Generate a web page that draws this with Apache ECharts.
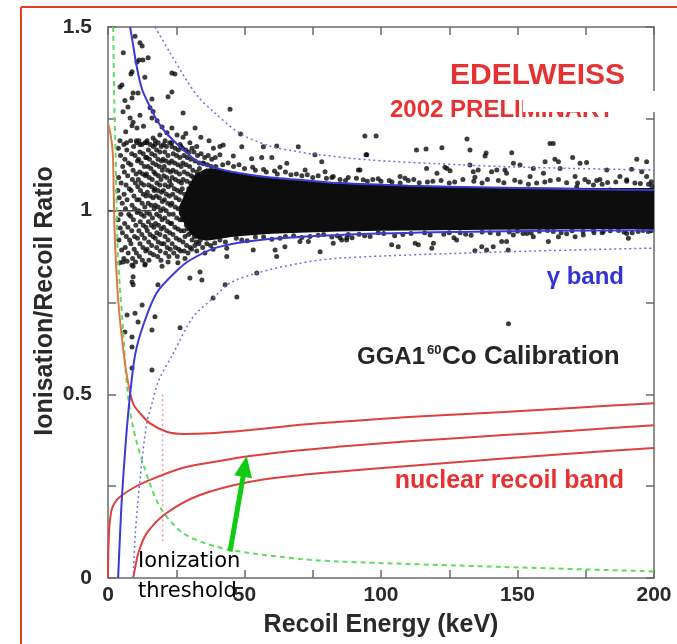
<!DOCTYPE html>
<html><head><meta charset="utf-8">
<script src="https://cdn.jsdelivr.net/npm/echarts@6/dist/echarts.min.js"></script>
<style>html,body{margin:0;padding:0;background:#fff}#c{width:677px;height:644px}</style>
</head><body><div id="c"></div><script>
// ---------- axis ticks ----------
const xTickLabels = [0, 50, 100, 150, 200];
const yTickLabels = [0, 0.5, 1, 1.5];

// ---------- curves [E keV, Q] ----------
const gammaUpperSolid = [[8.1,1.5],[9,1.46],[10.5,1.393],[12.5,1.33],[15.4,1.283],[18,1.245],[21.5,1.21],[26.4,1.174],[33.7,1.13],[45.8,1.105],[60,1.09],[70,1.084],[85,1.075],[110,1.068],[140,1.063],[170,1.059],[200,1.056]];
const gammaLowerSolid = [[3.7,0],[4.3,0.1],[5.0,0.207],[6.5,0.37],[8.1,0.5],[10,0.61],[13,0.69],[17.8,0.776],[25,0.835],[30,0.865],[40,0.9],[58,0.922],[85,0.934],[120,0.941],[160,0.945],[200,0.947]];
const gammaUpperDotted = [[17.2,1.5],[22.7,1.43],[28.8,1.355],[33,1.31],[38.5,1.27],[48.4,1.21],[59.3,1.176],[70,1.16],[77.6,1.152],[96,1.138],[120,1.128],[145,1.12],[170,1.115],[200,1.111]];
const gammaLowerDotted = [[9.2,0],[10,0.12],[11.7,0.267],[14.2,0.422],[16.5,0.485],[18.4,0.535],[23.9,0.612],[31.2,0.711],[38.5,0.762],[44.7,0.803],[54.5,0.83],[70.3,0.857],[85,0.871],[145,0.888],[200,0.898]];
const nuclearUpperLowE = [[0,1.238],[0.6,1.22],[1.3,1.19],[1.8,1.15],[2.1,1.05],[2.4,0.95],[2.9,0.86],[3.8,0.75],[5.0,0.66],[6.5,0.57],[8.1,0.502]];
const nuclearUpper = [[8.1,0.502],[9.5,0.47],[11.7,0.449],[15.4,0.421],[21.5,0.398],[27.5,0.392],[37.4,0.394],[52,0.403],[70.3,0.417],[84,0.425],[110,0.438],[145,0.452],[170,0.463],[200,0.476]];
const nuclearMiddle = [[0,0],[0.15,0.08],[0.5,0.14],[1.3,0.185],[2.5,0.205],[4.4,0.221],[9.2,0.245],[15.4,0.267],[27.5,0.30],[39.8,0.317],[52,0.332],[70.3,0.348],[84,0.357],[110,0.372],[145,0.389],[170,0.401],[200,0.416]];
const nuclearLower = [[9.2,0],[10,0.03],[11.1,0.068],[14.2,0.122],[21.5,0.177],[33.7,0.226],[52,0.262],[70.3,0.28],[84,0.289],[110,0.305],[145,0.325],[170,0.339],[200,0.354]];
const thresholdCurve = [[1.9,1.5],[2.3,1.3],[2.8,1.15],[3.2,1.0],[3.7,0.866],[5.4,0.69],[7.1,0.51],[9.2,0.41],[12.9,0.31],[19,0.194],[27.5,0.122],[39.8,0.085],[52,0.068],[70.3,0.052],[84,0.045],[145,0.03],[200,0.018]];
const recoilCutLine = [[20,0.1],[20,0.5]];
const unityLine = [[0,1],[16,1]];

// ---------- dense gamma core (boundaries) ----------
const coreE  = [26, 29, 32, 36, 40, 45, 50, 60, 70, 85, 100, 120, 140, 160, 180, 200];
const coreHi = [1.01,1.06,1.1,1.115,1.115,1.108,1.10,1.09,1.083,1.075,1.07,1.066,1.064,1.063,1.062,1.062];
const coreLo = [0.99,0.95,0.925,0.918,0.922,0.928,0.932,0.937,0.94,0.943,0.945,0.947,0.948,0.949,0.95,0.95];

// ---------- events [E, Q] ----------
const lowEnergyEvents = [
[3.8,1.17],[4.6,1.15],[3.9,1.09],[4.8,1.075],[4.1,1.035],[5.2,1.02],[3.7,0.975],[4.5,0.953],[4.0,0.92],[5.0,0.893],[4.3,0.858],[5.4,1.12],[3.6,1.055],[5.3,0.94],[4.7,0.99],
[5.8,1.18],[6.9,1.165],[6.2,1.14],[7.5,1.13],[6.0,1.105],[7.2,1.095],[6.6,1.07],[7.8,1.06],[5.9,1.045],[7.0,1.03],[6.4,1.005],[7.6,0.99],[6.1,0.965],[7.3,0.955],[6.7,0.93],[7.9,0.92],[6.3,0.9],[7.4,0.885],[5.8,0.87],[7.0,0.862],
[8.3,1.19],[9.4,1.175],[10.5,1.185],[8.7,1.155],[9.9,1.15],[10.8,1.135],[8.4,1.125],[9.2,1.11],[10.3,1.1],[8.9,1.085],[10.0,1.075],[10.9,1.065],[8.5,1.055],[9.5,1.04],[10.6,1.03],[8.8,1.015],[9.8,1.005],[10.7,0.995],[8.3,0.985],[9.3,0.975],[10.2,0.96],[8.7,0.945],[9.7,0.93],[10.8,0.925],[8.4,0.91],[9.6,0.895],[10.4,0.885],[9.0,0.87],[10.1,0.86],
[11.3,1.19],[12.4,1.18],[13.5,1.185],[11.7,1.16],[12.9,1.155],[13.8,1.145],[11.2,1.14],[12.2,1.13],[13.3,1.12],[11.6,1.105],[12.7,1.1],[13.7,1.095],[11.1,1.085],[12.1,1.075],[13.1,1.07],[11.9,1.055],[12.9,1.045],[13.9,1.04],[11.4,1.03],[12.5,1.02],[13.5,1.01],[11.2,1.0],[12.2,0.99],[13.2,0.985],[11.8,0.97],[12.9,0.96],[13.9,0.955],[11.3,0.945],[12.4,0.935],[13.4,0.925],[11.7,0.91],[12.8,0.9],[13.8,0.89],[11.5,0.875],[12.6,0.865],[13.6,0.855],
[14.3,1.19],[15.5,1.18],[16.6,1.175],[14.8,1.165],[16.0,1.155],[14.2,1.145],[15.2,1.14],[16.4,1.13],[14.6,1.12],[15.7,1.115],[16.8,1.105],[14.1,1.1],[15.1,1.09],[16.2,1.085],[14.9,1.07],[16.0,1.065],[16.9,1.055],[14.4,1.05],[15.5,1.04],[16.5,1.035],[14.7,1.02],[15.8,1.015],[16.9,1.005],[14.2,0.995],[15.3,0.99],[16.3,0.98],[14.8,0.97],[15.9,0.96],[16.8,0.955],[14.4,0.945],[15.4,0.935],[16.5,0.93],[14.9,0.915],[16.0,0.905],[14.3,0.895],[15.5,0.885],[16.7,0.88],[15.0,0.865],
[17.3,1.19],[18.4,1.185],[19.5,1.175],[17.8,1.165],[19.0,1.16],[17.2,1.15],[18.3,1.14],[19.6,1.135],[17.6,1.125],[18.8,1.12],[19.9,1.11],[17.4,1.1],[18.5,1.095],[19.4,1.085],[17.9,1.075],[19.0,1.07],[17.2,1.06],[18.3,1.055],[19.6,1.05],[17.7,1.04],[18.8,1.035],[19.9,1.025],[17.3,1.015],[18.4,1.01],[19.3,1.0],[17.8,0.99],[18.9,0.985],[19.8,0.975],[17.4,0.965],[18.5,0.96],[19.5,0.95],[17.9,0.94],[19.0,0.935],[17.3,0.925],[18.4,0.915],[19.6,0.91],[17.8,0.9],[19.1,0.89],[18.2,0.875],[19.4,0.865],
[20.3,1.18],[21.4,1.175],[22.6,1.185],[20.8,1.16],[22.0,1.15],[20.2,1.14],[21.3,1.135],[22.5,1.13],[20.6,1.12],[21.8,1.11],[22.9,1.105],[20.4,1.095],[21.5,1.09],[22.6,1.08],[20.9,1.07],[22.1,1.065],[20.3,1.055],[21.4,1.045],[22.5,1.04],[20.7,1.03],[21.9,1.02],[22.9,1.015],[20.2,1.005],[21.3,1.0],[22.4,0.99],[20.8,0.98],[21.9,0.97],[22.9,0.965],[20.4,0.955],[21.5,0.945],[22.6,0.94],[20.9,0.93],[22.0,0.92],[20.5,0.91],[21.7,0.9],[22.8,0.895],[21.1,0.885],[22.3,0.875],
[23.4,1.175],[24.6,1.17],[25.8,1.165],[26.7,1.175],[23.9,1.155],[25.1,1.15],[26.3,1.145],[23.3,1.135],[24.4,1.13],[25.6,1.125],[26.8,1.12],[23.8,1.11],[25.0,1.105],[26.2,1.1],[23.5,1.09],[24.7,1.085],[25.9,1.08],[26.9,1.075],[23.2,1.07],[24.3,1.06],[25.5,1.055],[26.6,1.05],[23.7,1.045],[24.9,1.035],[26.1,1.03],[23.4,1.02],[24.6,1.01],[25.7,1.005],[26.8,0.995],[23.9,0.99],[25.2,0.98],[26.4,0.975],[23.3,0.965],[24.5,0.955],[25.6,0.95],[26.7,0.945],[23.8,0.935],[25.0,0.925],[26.2,0.92],[23.5,0.91],[24.7,0.9],[25.9,0.895],[24.1,0.885],[25.4,0.875],[26.6,0.89],
[27.3,1.17],[28.5,1.165],[29.7,1.16],[30.8,1.17],[27.8,1.15],[29.0,1.145],[30.3,1.14],[27.4,1.13],[28.6,1.125],[29.9,1.12],[27.9,1.105],[29.2,1.1],[30.5,1.095],
[27.2,1.06],[28.1,1.045],[27.6,1.02],[28.4,0.99],[27.1,0.975],[28.7,0.96],[27.8,0.945],[29.5,0.935],[30.8,0.92],[31.6,0.93],[32.4,0.915],[30.2,1.075],[31.3,1.09],[32.6,1.105],[33.5,1.115],[29.6,1.06],[28.9,1.08],[27.5,1.085],[28.2,0.93],[29.1,0.95],[30.4,0.94],[33.8,0.92],[34.9,1.13],[31.1,1.11],[29.8,1.035],[28.6,1.01],
[27.5,0.915],[28.8,0.905],[30.1,0.9],[27.9,0.89],[29.3,0.885],[30.6,0.895],[28.2,0.87],
[31.5,1.16],[32.8,1.15],[34.1,1.155],[35.4,1.145],[36.7,1.15],[38.0,1.14],[39.3,1.145],[31.9,1.135],[33.4,1.13],[35.0,1.128],[36.4,1.125],[37.8,1.12],[39.5,1.12],
[31.8,0.905],[33.3,0.91],[34.7,0.9],[36.2,0.91],[37.6,0.905],[39.1,0.912],[32.5,0.89],[35.5,0.885],[38.5,0.895]
];
const highQEvents = [
[5.6,1.43],[11.7,1.457],[12.5,1.448],[9.9,1.475],[11.4,1.41],[10.6,1.405],[14.7,1.416],[8.8,1.378],[8.4,1.372],[23.4,1.375],[24.5,1.372],[5.1,1.342],[4.4,1.337],[23.4,1.323],[22,1.31],[9.2,1.32],[11,1.32],[8.8,1.307],[6.2,1.30],[7.3,1.282],[5.5,1.269],[8.1,1.252],[9.2,1.241],[8.8,1.231],[10.6,1.225],[16.1,1.304],[15.4,1.28],[16.5,1.27],[11.7,1.26],[27.5,1.266],[31.9,1.225],[16.1,1.252],[19.8,1.228],[21.6,1.212],[23.4,1.225],[25.3,1.206],[27.5,1.20],[19,1.206],[16.5,1.198],[4.4,1.19],[6.8,1.185],[10.4,1.19],[11.7,1.18],[14.2,1.185],[17.2,1.18],[20.9,1.19],[23.3,1.185],[26.4,1.18],[30,1.185],[32.5,1.175],[38.6,1.17],[41,1.175],[13.5,1.363],[12.8,1.41],[44.7,1.276],[48.6,1.209],[28.5,1.21],[34,1.2],[37,1.19],[6.5,1.215],[13,1.23],[18,1.245]
];
const lowQEvents = [
[5.5,0.86],[8.8,0.852],[9.2,0.849],[13.5,0.852],[19.8,0.849],[22,0.86],[25.6,0.858],[9.2,0.82],[8.8,0.806],[9.2,0.798],[18.3,0.798],[30,0.817],[33.7,0.833],[34.4,0.811],[42.9,0.798],[38.5,0.762],[12.5,0.743],[7,0.716],[9.9,0.721],[11,0.697],[17.2,0.711],[6.2,0.67],[8.8,0.656],[16.1,0.675],[26.4,0.681],[8.8,0.629],[8.8,0.572],[16.1,0.566],[47.2,0.765],[146.7,0.692]
];
const bandUpperEvents = [
[42.2,1.179],[49,1.174],[56.9,1.174],[61.8,1.176],[69.7,1.174],[75.8,1.152],[78.3,1.133],[94.8,1.152],[41,1.152],[45.9,1.149],[52.6,1.141],[56.3,1.145],[60,1.145],[65.5,1.129],[63,1.118],[72.2,1.111],[79.5,1.106],[82.5,1.093],[91.7,1.111],[93.5,1.084],
[94.1,1.203],[98.2,1.203],[94.5,1.152],[113,1.165],[116.5,1.168],[122.3,1.171],[131.5,1.195],[132.6,1.165],[138.5,1.157],[138.1,1.149],
[116.7,1.115],[123.4,1.118],[125.3,1.109],[132.6,1.124],[133.8,1.106],[135.6,1.111],[134.4,1.091],[140.5,1.106],[142.4,1.111],[145.4,1.111],[107,1.093],[108.8,1.088],[103.9,1.065],[92.3,1.111],[120.5,1.102],[124.2,1.115],
[161.9,1.183],[163.1,1.183],[147.9,1.158],[170.2,1.145],[193.7,1.14],[197.3,1.133],[148.5,1.129],[150.9,1.124],[160.1,1.133],[163.7,1.14],[165,1.133],[165.6,1.115],[172.9,1.129],[175.3,1.131],[182.7,1.111],[191.8,1.113],[195.5,1.106],[197.3,1.093],[187.5,1.093],[146,1.102],[155.8,1.115],[159.5,1.102],[154.6,1.093],[171.1,1.093],[174.7,1.085],[180.2,1.085],[190,1.084],[171.7,1.065],[177.8,1.07],[183.9,1.056],[199.2,1.067],
[42,1.125],[46,1.12],[50,1.115],[54,1.11],[58,1.105],[62,1.1],[67,1.098],[71,1.095],[75,1.09],[80,1.088],[85,1.085],[88,1.09],[97,1.085],[100,1.08],[104,1.078],[110,1.082],[114,1.076],[119,1.08],[127,1.078],[130,1.085],[137,1.075],[143,1.082],[151,1.078],[157,1.075],[162,1.082],[168,1.076],[176,1.078],[181,1.072],[186,1.078],[193,1.075],[198,1.072],
[44,1.13],[48,1.125],[53,1.118],[57,1.112],[61,1.108],[65,1.105],[69,1.1],[73,1.098],[77,1.095],[82,1.09],[87,1.082],[91,1.088],[95,1.08],[99,1.087],[103,1.082],[107,1.075],[112,1.085],[117,1.078],[122,1.082],[125,1.075],[134,1.08],[139,1.085],[145,1.076],[149,1.083],[154,1.072],[160,1.078],[165,1.085],[172,1.075],[179,1.082],[183,1.077],[190,1.08],[195,1.074],[199,1.079]
];
const bandLowerEvents = [
[43.5,0.898],[53.2,0.893],[61.2,0.893],[64.8,0.902],[70.3,0.916],[73.4,0.916],[77.7,0.888],[82.5,0.911],[85.6,0.92],[87.4,0.92],[43.5,0.875],[61.8,0.875],[54.5,0.83],
[85,0.926],[87.5,0.926],[89.4,0.926],[103.9,0.907],[106.3,0.902],[112.5,0.911],[113.7,0.907],[119.2,0.911],[118.6,0.898],[127.7,0.92],[134.4,0.891],[136.9,0.902],[138.7,0.893],[141.1,0.902],[144.2,0.916],[146.6,0.893],[126.7,0.926],
[146,0.916],[148.5,0.934],[153.4,0.938],[155.8,0.929],[161.3,0.916],[163.1,0.943],[165,0.929],[171.1,0.929],[174.1,0.934],[177.8,0.947],[181.4,0.943],[190,0.938],[190.6,0.925],[194.2,0.943],[197.9,0.943],
[41,0.92],[47,0.925],[51,0.918],[57,0.928],[63,0.925],[68,0.932],[74,0.93],[79,0.935],[84,0.932],[92,0.936],[96,0.93],[101,0.938],[108,0.935],[116,0.94],[123,0.936],[129,0.94],[133,0.933],[140,0.94],[147,0.942],[152,0.938],[158,0.944],[166,0.94],[170,0.945],[178,0.94],[184,0.945],[189,0.942],[196,0.946],
[43,0.915],[49,0.92],[54,0.928],[60,0.922],[65,0.93],[71,0.927],[77,0.933],[82,0.928],[88,0.935],[94,0.932],[99,0.94],[105,0.932],[111,0.938],[118,0.934],[125,0.94],[131,0.936],[137,0.942],[143,0.937],[150,0.944],[155,0.939],[161,0.946],[168,0.937],[174,0.944],[181,0.94],[187,0.946],[192,0.94],[199,0.945]
];

// ---------- annotation arrow (data coords) ----------
const arrowTail = [44.7, 0.072];
const arrowTip = [50.8, 0.332];

// ================= build =================
const chart = echarts.init(document.getElementById('c'));
const SANS = '"Liberation Sans", Arial, Helvetica, sans-serif';
const near = (v, arr) => arr.some(t => Math.abs(t - v) < 1e-6);

function curve(data, color, width, type, z) {
  return {type:'line', data, symbol:'none', showSymbol:false, smooth:0.3, silent:true,
    lineStyle:{color, width, type}, z: z || 5, clip:true, animation:false};
}
function dots(data) {
  return {type:'scatter', data, symbol:'circle', symbolSize:5, silent:true,
    itemStyle:{color:'#0d0d0d'}, z:3, animation:false};
}
const axisCommon = {
  type:'value', axisLine:{show:true, onZero:false, lineStyle:{color:'#6a6a6a', width:1.5}},
  axisTick:{show:true, inside:true, length:8, lineStyle:{color:'#6a6a6a', width:1.5}},
  splitLine:{show:false}
};

const option = {
  backgroundColor:'#ffffff',
  animation:false,
  grid:{left:108, right:23, top:27, bottom:66, containLabel:false},
  xAxis:[
    Object.assign({}, axisCommon, {min:0, max:200, interval:25, position:'bottom',
      axisLabel:{show:true, margin:7, fontFamily:SANS, fontWeight:'bold', fontSize:21, color:'#2a2a2a',
        formatter:v => near(v, xTickLabels) ? String(v) : ''}}),
    Object.assign({}, axisCommon, {min:0, max:200, interval:25, position:'top', axisLabel:{show:false}})
  ],
  yAxis:[
    Object.assign({}, axisCommon, {min:0, max:1.5, interval:0.25, position:'left',
      axisLabel:{show:true, margin:16, fontFamily:SANS, fontWeight:'bold', fontSize:21, color:'#2a2a2a',
        formatter:v => near(v, yTickLabels) ? String(+v.toFixed(2)) : ''}}),
    Object.assign({}, axisCommon, {min:0, max:1.5, interval:0.25, position:'right', axisLabel:{show:false}})
  ],
  series:[
    {type:'custom', silent:true, z:2, clip:true, data:[[100,1]],
      renderItem:(params, api) => {
        const pts = [];
        for (let i = 0; i < coreE.length; i++) pts.push(api.coord([coreE[i], coreHi[i]]));
        for (let i = coreE.length - 1; i >= 0; i--) pts.push(api.coord([coreE[i], coreLo[i]]));
        return {type:'polygon', shape:{points:pts}, style:{fill:'#0d0d0d'}};
      }},
    dots(lowEnergyEvents), dots(highQEvents), dots(lowQEvents), dots(bandUpperEvents), dots(bandLowerEvents),
    curve(unityLine, '#444', 1.5, 'solid', 4),
    curve(thresholdCurve, '#5fdc5f', 2, [5,4], 5),
    curve(recoilCutLine, '#f29a9a', 1.5, [2,3], 5),
    curve(nuclearUpperLowE, '#dc7a45', 2, 'solid', 5),
    curve(nuclearUpper, '#de4040', 2, 'solid', 5),
    curve(nuclearMiddle, '#de4040', 2, 'solid', 5),
    curve(nuclearLower, '#de4040', 2, 'solid', 5),
    curve(gammaUpperDotted, '#6f6fe0', 1.5, [2,3], 6),
    curve(gammaLowerDotted, '#6f6fe0', 1.5, [2,3], 6),
    curve(gammaUpperSolid, '#3a3ad4', 2, 'solid', 6),
    curve(gammaLowerSolid, '#3a3ad4', 2, 'solid', 6),
    {type:'custom', silent:true, z:8, clip:false, data:[[arrowTip[0], arrowTip[1]]],
      renderItem:(params, api) => {
        const p0 = api.coord(arrowTail), p1 = api.coord(arrowTip);
        const dx = p1[0]-p0[0], dy = p1[1]-p0[1], L = Math.hypot(dx, dy);
        const ux = dx/L, uy = dy/L, nx = -uy, ny = ux;
        const hl = 21, hw = 9;
        const b = [p1[0]-ux*hl, p1[1]-uy*hl];
        return {type:'group', children:[
          {type:'line', shape:{x1:p0[0], y1:p0[1], x2:b[0]+ux*2, y2:b[1]+uy*2}, style:{stroke:'#10cc10', lineWidth:5}},
          {type:'polygon', shape:{points:[p1, [b[0]+nx*hw, b[1]+ny*hw], [b[0]-nx*hw, b[1]-ny*hw]]}, style:{fill:'#10cc10'}}
        ]};
      }}
  ],
  graphic:[
    {type:'text', z:100, x:625, y:76, style:{text:'EDELWEISS', fill:'#e63232', font:'bold 30px '+SANS, textAlign:'right', textVerticalAlign:'middle'}},
    {type:'text', z:100, x:390, y:110, style:{text:'2002 PRELIMINARY', fill:'#e63232', font:'bold 24px '+SANS, textAlign:'left', textVerticalAlign:'middle'}},
    {type:'rect', z:101, shape:{x:523, y:91, width:135, height:21}, style:{fill:'#ffffff'}},
    {type:'text', z:100, x:624, y:277, style:{text:'γ band', fill:'#3434d2', font:'bold 24px '+SANS, textAlign:'right', textVerticalAlign:'middle'}},
    {type:'text', z:100, x:357, y:357, style:{text:'GGA1', fill:'#262626', font:'bold 24px '+SANS, textAlign:'left', textVerticalAlign:'middle'}},
    {type:'text', z:100, x:427, y:350, style:{text:'60', fill:'#262626', font:'bold 13px '+SANS, textAlign:'left', textVerticalAlign:'middle'}},
    {type:'text', z:100, x:442, y:357, style:{text:'Co Calibration', fill:'#262626', font:'bold 26px '+SANS, textAlign:'left', textVerticalAlign:'middle'}},
    {type:'text', z:100, x:624, y:481, style:{text:'nuclear recoil band', fill:'#e63232', font:'bold 25px '+SANS, textAlign:'right', textVerticalAlign:'middle'}},
    {type:'text', z:100, x:138, y:562, style:{text:'Ionization', fill:'#000', font:'21px "DejaVu Sans", Verdana, sans-serif', textAlign:'left', textVerticalAlign:'middle'}},
    {type:'text', z:100, x:138, y:592, style:{text:'threshold', fill:'#000', font:'21px "DejaVu Sans", Verdana, sans-serif', textAlign:'left', textVerticalAlign:'middle'}},
    {type:'text', z:100, x:381, y:625, style:{text:'Recoil Energy (keV)', fill:'#2a2a2a', font:'bold 25px '+SANS, textAlign:'center', textVerticalAlign:'middle'}},
    {type:'text', z:100, x:45, y:301, rotation:Math.PI/2, style:{text:'Ionisation/Recoil Ratio', fill:'#2a2a2a', font:'bold 25px '+SANS, textAlign:'center', textVerticalAlign:'middle'}},
    {type:'line', z:100, shape:{x1:21, y1:7, x2:21, y2:644}, style:{stroke:'#e2401e', lineWidth:2}},
    {type:'line', z:100, shape:{x1:21, y1:7, x2:677, y2:7}, style:{stroke:'#e2401e', lineWidth:2}}
  ]
};
chart.setOption(option);
</script></body></html>
